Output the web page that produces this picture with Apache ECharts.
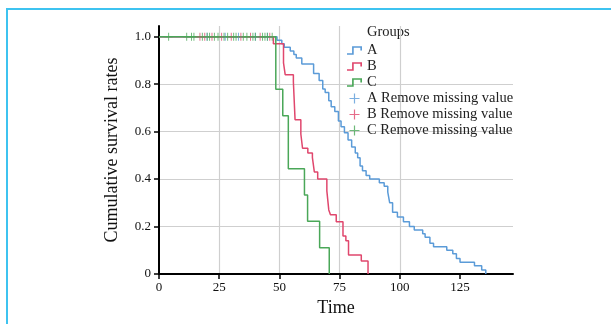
<!DOCTYPE html>
<html><head><meta charset="utf-8">
<script src="https://cdn.jsdelivr.net/npm/echarts@6/dist/echarts.min.js"></script>
<style>
html,body{margin:0;padding:0;background:#fff;overflow:hidden;width:611px;height:324px;}
#frame{position:absolute;left:6px;top:8px;width:700px;height:400px;border-left:2px solid #3ec3f0;border-top:2px solid #3ec3f0;}
#chart{position:absolute;left:0;top:0;width:611px;height:324px;}
</style></head>
<body>
<div id="frame"></div>
<div id="chart"></div>
<script>
// ---- data ----
const xTicks = [0, 25, 50, 75, 100, 125];
const yTicks = [0, 0.2, 0.4, 0.6, 0.8, 1.0];
const groups = ['A', 'B', 'C'];
const censorNames = ['A Remove missing value', 'B Remove missing value', 'C Remove missing value'];

const aTimes = [49.0, 51.0, 52.0, 54.5, 56.0, 57.0, 59.3, 64.2, 66.5, 68.0, 69.0, 70.5, 71.5, 73.0, 74.5, 75.6, 77.0, 78.5, 80.0, 81.5, 82.5, 83.5, 84.5, 86.0, 87.5, 91.5, 93.5, 95.0, 95.8, 97.0, 99.0, 101.5, 104.0, 106.0, 109.5, 110.5, 112.5, 114.0, 119.5, 122.0, 123.5, 125.0, 131.0, 134.0, 135.7];
const aSurv  = [0.985, 0.97, 0.955, 0.94, 0.925, 0.91, 0.885, 0.845, 0.815, 0.78, 0.765, 0.73, 0.705, 0.685, 0.645, 0.62, 0.595, 0.565, 0.535, 0.51, 0.49, 0.455, 0.435, 0.415, 0.40, 0.385, 0.37, 0.345, 0.30, 0.26, 0.24, 0.22, 0.20, 0.185, 0.17, 0.155, 0.13, 0.115, 0.10, 0.085, 0.065, 0.05, 0.035, 0.017, 0];

const bTimes = [47.5, 51.7, 52.4, 55.8, 56.5, 58.9, 59.6, 61.8, 63.7, 64.5, 65.9, 69.7, 70.5, 71.2, 73.6, 76.4, 77.6, 78.7, 84.0, 86.8];
const bSurv  = [0.97, 0.89, 0.84, 0.81, 0.65, 0.59, 0.53, 0.51, 0.49, 0.43, 0.40, 0.35, 0.27, 0.25, 0.22, 0.16, 0.14, 0.08, 0.055, 0];

const cTimes = [48.5, 51.4, 53.7, 60.4, 61.7, 66.7, 70.7];
const cSurv  = [0.778, 0.667, 0.444, 0.333, 0.222, 0.111, 0];

const aCensor = [20, 27.5, 33, 40, 45];
const bCensor = [17, 19, 22, 26, 30, 34, 38, 42, 46];
const cCensor = [4, 11.5, 13.5, 14.5, 18, 20, 21, 23, 24.5, 27, 28.5, 31, 32, 35, 36.5, 39, 40, 43, 44, 45, 47];

const colors = ['#5b9bd8', '#e0476d', '#4aa758'];

// ---- build ----
function curve(times, surv) {
  const d = [[0, 1]];
  times.forEach((t, i) => d.push([t, surv[i]]));
  return d;
}
const curves = [curve(aTimes, aSurv), curve(bTimes, bSurv), curve(cTimes, cSurv)];
const censors = [aCensor, bCensor, cCensor].map(arr => arr.map(t => [t, 1]));

const stepIcon = 'path://M0,7.3 L4.3,7.3 L4.3,1.3 L12.7,1.3 L12.7,5 L11.3,5 L11.3,2.7 L5.7,2.7 L5.7,8.7 L0,8.7 Z';
const plusIcon = 'path://M4.4,0 H5.6 V4.4 H10 V5.6 H5.6 V10 H4.4 V5.6 H0 V4.4 H4.4 Z';
const plusSym  = 'path://M4.4,0 H5.6 V4.4 H10 V5.6 H5.6 V10 H4.4 V5.6 H0 V4.4 H4.4 Z';

const serif = 'Liberation Serif, Times New Roman, serif';
const series = [];
groups.forEach((g, i) => {
  series.push({
    name: g, type: 'line', step: 'end', data: curves[i], showSymbol: false, symbol: 'none',
    lineStyle: { color: colors[i], width: 1.5 }, itemStyle: { color: colors[i] }, z: 3, animation: false
  });
});
groups.forEach((g, i) => {
  series.push({
    name: censorNames[i], type: 'scatter', data: censors[i], symbol: plusSym, symbolSize: 8,
    itemStyle: { color: colors[i] }, z: 4, animation: false
  });
});

const chart = echarts.init(document.getElementById('chart'), null, { renderer: 'canvas' });
chart.setOption({
  backgroundColor: 'transparent',
  animation: false,
  grid: { left: 159, right: 98, top: 26, bottom: 50, containLabel: false },
  graphic: [{ type: 'text', left: 367, top: 25, style: { text: 'Groups', font: '14.5px ' + serif, fill: '#222' } }],
  legend: {
    orient: 'vertical', left: 342, top: 38, itemWidth: 15, itemHeight: 10, itemGap: 1,
    textStyle: { fontFamily: serif, fontSize: 14.5, color: '#222', lineHeight: 15 },
    data: [
      { name: 'A', icon: stepIcon }, { name: 'B', icon: stepIcon }, { name: 'C', icon: stepIcon },
      { name: censorNames[0], icon: plusIcon }, { name: censorNames[1], icon: plusIcon }, { name: censorNames[2], icon: plusIcon }
    ],
    selectedMode: false
  },
  xAxis: {
    type: 'value', min: 0, max: 147, interval: 25,
    name: 'Time', nameLocation: 'middle', nameGap: 24,
    nameTextStyle: { fontFamily: serif, fontSize: 18, color: '#111' },
    axisLine: { lineStyle: { color: '#000', width: 2 } },
    axisTick: { show: true, length: 5, lineStyle: { color: '#000', width: 1.5 }, customValues: xTicks },
    axisLabel: { fontFamily: serif, fontSize: 13, color: '#111', margin: 7, customValues: xTicks,
      formatter: v => xTicks.includes(v) ? String(v) : '' },
    splitLine: { show: true, showMinLine: false, showMaxLine: false, lineStyle: { color: '#cfcfcf', width: 1.2 } }
  },
  yAxis: {
    type: 'value', min: 0, max: 1.045, interval: 0.2,
    name: 'Cumulative survival rates', nameLocation: 'middle', nameGap: 38,
    nameTextStyle: { fontFamily: serif, fontSize: 18, color: '#111' },
    axisLine: { show: true, lineStyle: { color: '#000', width: 2 } },
    axisTick: { show: true, length: 5, lineStyle: { color: '#000', width: 1.5 }, customValues: yTicks },
    axisLabel: { fontFamily: serif, fontSize: 13, color: '#111', margin: 8, customValues: yTicks,
      formatter: v => v === 0 ? '0' : (Math.abs(v * 5 - Math.round(v * 5)) < 1e-6 ? v.toFixed(1) : '') },
    splitLine: { show: true, showMinLine: false, showMaxLine: false, lineStyle: { color: '#cfcfcf', width: 1.2 } }
  },
  series: series
});
</script>
</body></html>
